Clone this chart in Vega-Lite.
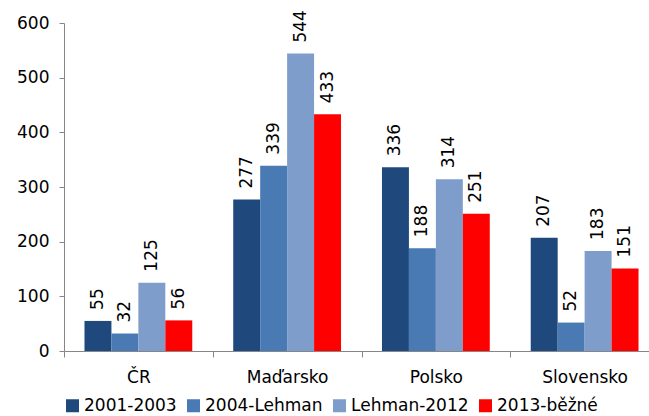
{
  "$schema": "https://vega.github.io/schema/vega-lite/v6.json",
  "width": 585,
  "height": 328,
  "autosize": {"type": "none"},
  "padding": {"left": 64, "top": 23, "right": 0, "bottom": 65},
  "background": "white",
  "data": {
    "values": [
      {"country": "ČR", "period": "2001-2003", "value": 55},
      {"country": "ČR", "period": "2004-Lehman", "value": 32},
      {"country": "ČR", "period": "Lehman-2012", "value": 125},
      {"country": "ČR", "period": "2013-běžné", "value": 56},
      {"country": "Maďarsko", "period": "2001-2003", "value": 277},
      {"country": "Maďarsko", "period": "2004-Lehman", "value": 339},
      {"country": "Maďarsko", "period": "Lehman-2012", "value": 544},
      {"country": "Maďarsko", "period": "2013-běžné", "value": 433},
      {"country": "Polsko", "period": "2001-2003", "value": 336},
      {"country": "Polsko", "period": "2004-Lehman", "value": 188},
      {"country": "Polsko", "period": "Lehman-2012", "value": 314},
      {"country": "Polsko", "period": "2013-běžné", "value": 251},
      {"country": "Slovensko", "period": "2001-2003", "value": 207},
      {"country": "Slovensko", "period": "2004-Lehman", "value": 52},
      {"country": "Slovensko", "period": "Lehman-2012", "value": 183},
      {"country": "Slovensko", "period": "2013-běžné", "value": 151}
    ]
  },
  "encoding": {
    "x": {
      "field": "country",
      "type": "nominal",
      "sort": ["ČR", "Maďarsko", "Polsko", "Slovensko"],
      "scale": {"paddingInner": 0, "paddingOuter": 0, "range": [0, 595]},
      "axis": {
        "title": null,
        "labelAngle": 0,
        "tickBand": "extent",
        "tickSize": 6,
        "labelPadding": 12,
        "labelFont": "DejaVu Sans",
        "labelFontSize": 17,
        "labelColor": "black",
        "domainColor": "#868686",
        "tickColor": "#868686",
        "grid": false
      }
    },
    "xOffset": {
      "field": "period",
      "type": "nominal",
      "sort": ["2001-2003", "2004-Lehman", "Lehman-2012", "2013-běžné"],
      "scale": {"paddingInner": 0, "paddingOuter": 0.76}
    },
    "y": {
      "field": "value",
      "type": "quantitative",
      "scale": {"domain": [0, 600], "nice": false},
      "axis": {
        "title": null,
        "values": [0, 100, 200, 300, 400, 500, 600],
        "grid": false,
        "tickSize": 5,
        "labelPadding": 10,
        "labelFont": "DejaVu Sans",
        "labelFontSize": 17,
        "labelColor": "black",
        "domainColor": "#868686",
        "tickColor": "#868686"
      }
    }
  },
  "layer": [
    {
      "mark": {"type": "bar"},
      "encoding": {
        "color": {
          "field": "period",
          "type": "nominal",
          "scale": {
            "domain": ["2001-2003", "2004-Lehman", "Lehman-2012", "2013-běžné"],
            "range": ["#1F497D", "#4A7AB4", "#7E9DCB", "#FF0000"]
          },
          "legend": {
            "title": null,
            "orient": "none",
            "legendX": 0,
            "legendY": 374,
            "direction": "horizontal",
            "columns": 4,
            "symbolType": "square",
            "symbolSize": 169,
            "symbolStrokeWidth": 0,
            "labelOffset": 3,
            "columnPadding": 8,
            "labelFont": "DejaVu Sans",
            "labelFontSize": 17,
            "labelColor": "black"
          }
        }
      }
    },
    {
      "mark": {
        "type": "text",
        "angle": -90,
        "align": "left",
        "baseline": "middle",
        "dx": 11,
        "font": "DejaVu Sans",
        "fontSize": 17,
        "color": "black"
      },
      "encoding": {
        "text": {"field": "value", "type": "quantitative"}
      }
    }
  ],
  "config": {
    "view": {"stroke": null}
  }
}
